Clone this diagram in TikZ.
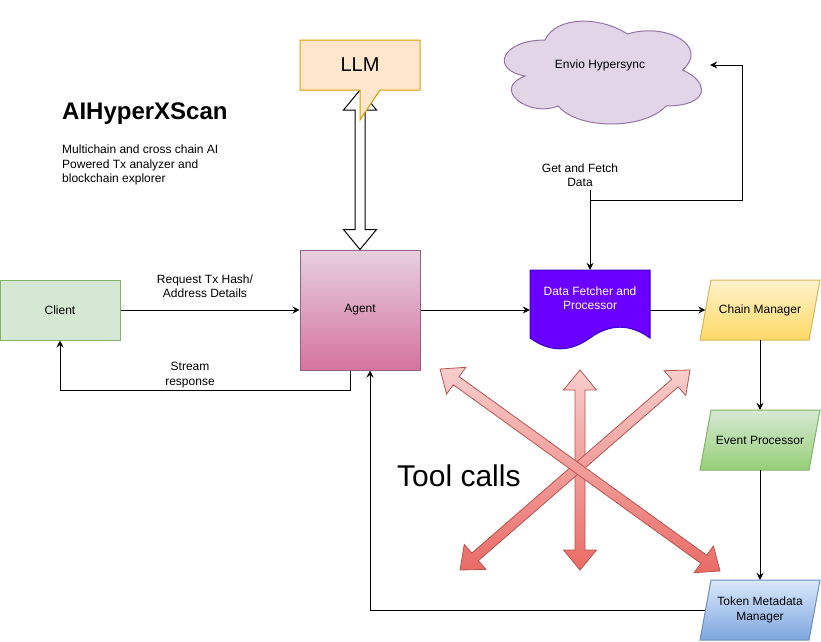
\documentclass[tikz,border=0pt]{standalone}
\usepackage{fontspec}
\setmainfont{Liberation Sans}
\usetikzlibrary{arrows.meta,calc}
\definecolor{llmf}{HTML}{FFE6CC}\definecolor{llmd}{HTML}{D79B00}
\definecolor{clf}{HTML}{D5E8D4}\definecolor{cld}{HTML}{82B366}
\definecolor{agt}{HTML}{E6D0DE}\definecolor{agb}{HTML}{D5739D}\definecolor{agd}{HTML}{996185}
\definecolor{cloudf}{HTML}{E1D5E7}\definecolor{cloudd}{HTML}{9673A6}
\definecolor{dff}{HTML}{6A00FF}\definecolor{dfd}{HTML}{3700CC}
\definecolor{cmt}{HTML}{FFF2CC}\definecolor{cmb}{HTML}{FFD966}\definecolor{cmd}{HTML}{D6B656}
\definecolor{ept}{HTML}{D5E8D4}\definecolor{epb}{HTML}{97D077}\definecolor{epd}{HTML}{82B366}
\definecolor{tmt}{HTML}{DAE8FC}\definecolor{tmb}{HTML}{7EA6E0}\definecolor{tmd}{HTML}{6C8EBF}
\definecolor{rdt}{HTML}{F8CECC}\definecolor{rdb}{HTML}{EA6B66}\definecolor{rdd}{HTML}{B85450}
\tikzset{
  txt/.style={font=\fontsize{12}{14.5}\selectfont, align=center, inner sep=0pt},
  conn/.style={draw=black, line width=1pt, -{Stealth[length=7pt,width=7pt,inset=2.5pt]}},
  para/.style={txt, minimum width=109pt, minimum height=60pt},
  redarrow/.style={top color=rdt, bottom color=rdb, draw=rdd, line width=0.8pt},
  hollowarrow/.style={fill=white, draw=black, line width=1pt},
}
\newcommand\flexarr[3]{%
  \coordinate (fa1) at ($(#2)!20pt!(#3)$);
  \coordinate (fa2) at ($(#3)!20pt!(#2)$);
  \path[#1] (#2) -- ($(fa1)!16.5pt!90:(#3)$) -- ($(fa1)!5pt!90:(#3)$)
    -- ($(fa2)!5pt!-90:(#2)$) -- ($(fa2)!16.5pt!-90:(#2)$) -- (#3)
    -- ($(fa2)!16.5pt!90:(#2)$) -- ($(fa2)!5pt!90:(#2)$)
    -- ($(fa1)!5pt!-90:(#3)$) -- ($(fa1)!16.5pt!-90:(#3)$) -- cycle;}
\begin{document}
\begin{tikzpicture}[x=1pt,y=-1pt]
\useasboundingbox (0,0) rectangle (821,641);
% title
\node[anchor=base west, inner sep=0pt, font=\fontsize{24}{28}\selectfont\bfseries] (title) at (62,119) {AIHyperXScan};
\node[txt, anchor=west, align=left] (sub) at (62,165) {Multichain and cross chain AI\\Powered Tx analyzer and\\blockchain explorer};
% agent and client
\node[txt, draw=agd, line width=1pt, top color=agt, bottom color=agb, minimum width=120pt, minimum height=120pt] (agent) at (360,310) {Agent};
\node[txt, draw=cld, fill=clf, line width=1pt, minimum width=120pt, minimum height=60pt] (client) at (60,310) {Client};
% LLM double arrow and callout
\coordinate (llmb) at (360,90);
\flexarr{hollowarrow}{llmb}{agent.north}
\draw[fill=llmf, draw=llmd, line width=1pt] (300,40) -- (420,40) -- (420,90) -- (380,90) -- (360,120) -- (360,90) -- (300,90) -- cycle;
\node[txt, font=\fontsize{20}{24}\selectfont] (llm) at (360,65) {LLM};
% cloud
\filldraw[fill=cloudf, draw=cloudd, line width=1pt]
  (545,40) .. controls (501,40) and (490,70) .. (525.2,76)
  .. controls (490,89.2) and (529.6,118) .. (558.2,106)
  .. controls (578,130) and (644,130) .. (666,106)
  .. controls (710,106) and (710,82) .. (682.5,70)
  .. controls (710,46) and (666,22) .. (627.5,34)
  .. controls (600,16) and (556,16) .. (545,40) -- cycle;
\node[minimum width=220pt, minimum height=120pt, inner sep=0pt] (cloud) at (600,70) {};
\node[txt] (cloudtxt) at (600,65) {Envio Hypersync};
% data fetcher
\filldraw[fill=dff, draw=dfd, line width=1pt] (530,270) -- (650,270) -- (650,338) .. controls (630,323.6) and (610,323.6) .. (590,338) .. controls (570,352.4) and (550,352.4) .. (530,338) -- cycle;
\node[txt, text=white, minimum width=120pt, minimum height=56pt] (df) at (590,298) {Data Fetcher and\\Processor};
% parallelograms
\shadedraw[top color=cmt, bottom color=cmb, draw=cmd, line width=1pt] (711,280) -- (820,280) -- (809,340) -- (700,340) -- cycle;
\node[para] (cm) at (760,310) {Chain Manager};
\shadedraw[top color=ept, bottom color=epb, draw=epd, line width=1pt] (711,410) -- (820,410) -- (809,470) -- (700,470) -- cycle;
\node[para] (ep) at (760,440) {Event Processor};
\shadedraw[top color=tmt, bottom color=tmb, draw=tmd, line width=1pt] (711,580) -- (820,580) -- (809,640) -- (700,640) -- cycle;
\node[para] (tmm) at (760,610) {Token Metadata\\Manager};
% connectors
\draw[conn] (client.east) -- (agent.west);
\node[txt] (req) at (205,286) {Request Tx Hash/\\Address Details};
\draw[conn] ([xshift=-10pt]agent.south) -- ++(0,20) -| (client.south);
\node[txt] (stream) at (190,375) {Stream\\response};
\draw[conn] (agent.east) -- (agent.east -| df.west);
\draw[conn] (agent.east -| df.east) -- (agent.east -| cm.west);
\draw[conn] (cm.south) -- (ep.north);
\draw[conn] (ep.south) -- (tmm.north);
\draw[conn] (tmm.west) -| ([xshift=10pt]agent.south);
\node[txt] (gf) at (580,175) {Get and Fetch\\Data};
\coordinate (gft) at (590,190);
\coordinate (gfb) at (590,200);
\coordinate (cr) at (742,65);
\draw[conn] (gft) -- (df.north);
\draw[conn] (gfb) -| (cr) -- (cr -| cloud.east);
% tool call arrows
\coordinate (v1) at (580,370); \coordinate (v2) at (580,570);
\coordinate (d1) at (440,369); \coordinate (d2) at (720,571);
\coordinate (e1) at (460,570); \coordinate (e2) at (690,370);
\flexarr{redarrow}{v1}{v2}
\flexarr{redarrow}{e1}{e2}
\flexarr{redarrow}{d1}{d2}
\node[anchor=base west, inner sep=0pt, font=\fontsize{30}{36}\selectfont] (tool) at (397,486) {Tool calls};
\end{tikzpicture}
\end{document}
